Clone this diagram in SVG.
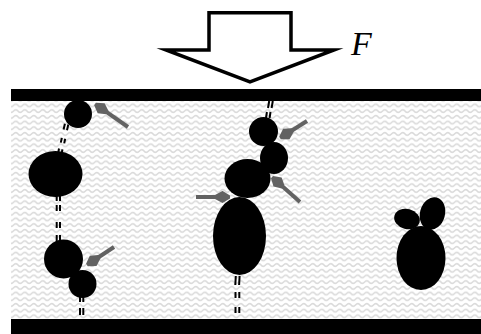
<svg xmlns="http://www.w3.org/2000/svg" width="481" height="334" viewBox="0 0 481 334">
  <defs>
    <!-- wavy fill of the gap between the two plates -->
    <pattern id="waves" patternUnits="userSpaceOnUse" width="9" height="5.7">
      <path d="M-4.5,2.85 Q-2.25,0.4 0,2.85 T4.5,2.85 T9,2.85 T13.5,2.85" fill="none" stroke="#dadada" stroke-width="1.6"/>
    </pattern>
    <!-- kite-shaped head of the grey force arrows -->
    <marker id="kite" markerUnits="userSpaceOnUse" viewBox="0 0 16 13" refX="6" refY="6.5" markerWidth="16" markerHeight="13" orient="auto">
      <path d="M15,5 L15,8 L7.5,12.6 L0,8.5 L0,4.5 L7.5,0.4 Z" fill="#626262"/>
    </marker>
    <style>
      .plate { fill: #000; }
      .blob { fill: #000; }
      .tether { fill: none; stroke: #000; stroke-width: 2; }
      .force { stroke: #626262; stroke-width: 4; fill: none; marker-end: url(#kite); }
      .load { fill: #fff; stroke: #000; stroke-width: 3.5; stroke-linejoin: miter; stroke-miterlimit: 10; }
      .label { font-family: "Liberation Serif", "DejaVu Serif", serif; font-style: italic; font-size: 34px; fill: #000; }
    </style>
  </defs>

  <rect width="481" height="334" fill="#fff"/>

  <!-- medium between plates -->
  <rect x="11" y="100" width="470" height="220" fill="url(#waves)"/>

  <!-- plates -->
  <g id="top-plate"><rect class="plate" x="11" y="89" width="470" height="12"/></g>
  <g id="bottom-plate"><rect class="plate" x="11" y="319" width="470" height="15"/></g>

  <!-- applied load -->
  <g id="load-arrow">
    <polygon class="load" points="209,12.75 291,12.75 291,50 334,50 250,82 166,50 209,50"/>
    <text class="label" x="351" y="55">F</text>
  </g>

  <!-- double-line tethers -->
  <g id="connectors">
    <path class="tether" d="M64.9,123.7 L63.6,129.5 M68.3,124.5 L67,130.3
                            M61.8,137.9 L60.8,142.6 M65.2,138.7 L64.2,143.4
                            M59,148.5 L58.3,152.5 M62.4,149.3 L61.7,153.3"/>
    <path class="tether" d="M56.7,196 V201 M60,196 V201
                            M56.7,205 V211 M60,205 V211
                            M56.7,222 V228 M60,222 V228
                            M56.7,235 V242 M60,235 V242"/>
    <path class="tether" d="M80,295 V302 M83.3,295 V302
                            M80,308 V315 M83.3,308 V315"/>
    <path class="tether" d="M269.2,101 L268,108 M272.8,101 L271.6,108
                            M266.9,112 L266,118 M270.5,112 L269.6,118"/>
    <path class="tether" d="M235.8,276 L235.3,285 M239.6,276 L239.1,285
                            M235.5,292 V298 M239.3,292 V298
                            M235.5,307 V313 M239.3,307 V313"/>
  </g>

  <!-- left chain -->
  <g id="left-bead-1"><circle class="blob" cx="78" cy="114" r="14"/></g>
  <g id="left-bead-2"><ellipse class="blob" cx="55.5" cy="174" rx="27" ry="23"/></g>
  <g id="left-bead-3"><circle class="blob" cx="63.5" cy="259" r="19.5"/></g>
  <g id="left-bead-4"><circle class="blob" cx="82.5" cy="284" r="14"/></g>

  <!-- middle chain -->
  <g id="mid-bead-1"><circle class="blob" cx="263.5" cy="131.5" r="14.5"/></g>
  <g id="mid-bead-2"><ellipse class="blob" cx="274" cy="158" rx="14" ry="16"/></g>
  <g id="mid-bead-3"><ellipse class="blob" cx="247.5" cy="178.5" rx="23" ry="19.5"/></g>
  <g id="mid-bead-4"><ellipse class="blob" cx="239.5" cy="236" rx="26.5" ry="39"/></g>

  <!-- free cluster -->
  <g id="right-cluster">
    <ellipse class="blob" cx="421" cy="258" rx="24.5" ry="32"/>
    <ellipse class="blob" cx="407" cy="219" rx="13" ry="10" transform="rotate(15 407 219)"/>
    <ellipse class="blob" cx="432.5" cy="213.5" rx="12.5" ry="16.5" transform="rotate(15 432.5 213.5)"/>
  </g>

  <!-- grey force arrows -->
  <g id="forces">
    <line class="force" x1="128" y1="127" x2="102.4" y2="109.2"/>
    <line class="force" x1="114" y1="247" x2="94.4" y2="260"/>
    <line class="force" x1="307" y1="121" x2="287.6" y2="133.2"/>
    <line class="force" x1="300" y1="202" x2="278.7" y2="183"/>
    <line class="force" x1="196" y1="197" x2="221" y2="197"/>
  </g>
</svg>
